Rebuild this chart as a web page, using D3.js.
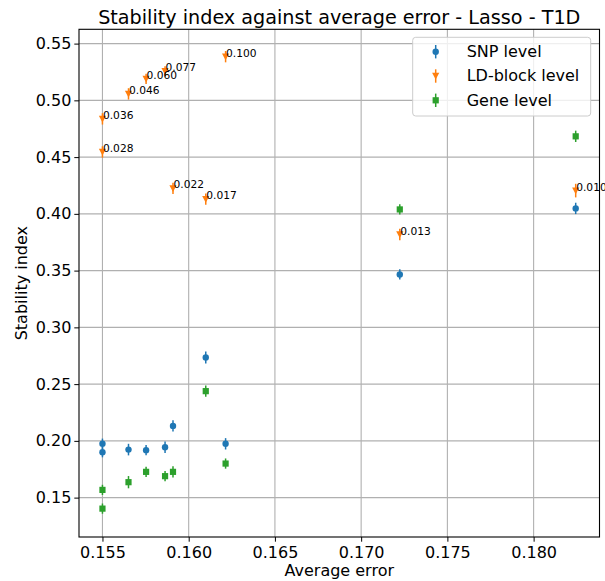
<!DOCTYPE html>
<html>
<head>
<meta charset="utf-8">
<script src="https://cdn.jsdelivr.net/npm/d3@7"></script>
<style>
  html, body { margin: 0; padding: 0; background: #fff; }
  svg { display: block; font-family: "DejaVu Sans", sans-serif; }
</style>
</head>
<body>
<svg id="chart" width="605" height="581"></svg>
<script>
// ---- data ----
const lambdaLabels = ["0.100", "0.077", "0.060", "0.046", "0.036", "0.028", "0.022", "0.017", "0.013", "0.010"];
const avgError     = [0.16214, 0.15863, 0.15753, 0.15651, 0.15500, 0.15500, 0.15909, 0.16099, 0.17224, 0.18244];
const snpValues    = [0.1974, 0.1944, 0.1918, 0.1923, 0.1975, 0.1900, 0.2132, 0.2734, 0.3466, 0.4048];
const snpErrors    = [0.0050, 0.0050, 0.0045, 0.0051, 0.0045, 0.0045, 0.0050, 0.0053, 0.0045, 0.0050];
const ldValues     = [0.5385, 0.5256, 0.5189, 0.5057, 0.4837, 0.4545, 0.4224, 0.4130, 0.3818, 0.4205];
const ldErrors     = [0.0050, 0.0045, 0.0045, 0.0050, 0.0050, 0.0050, 0.0050, 0.0050, 0.0050, 0.0060];
const geneValues   = [0.1800, 0.1689, 0.1727, 0.1636, 0.1568, 0.1403, 0.1727, 0.2438, 0.4039, 0.4683];
const geneErrors   = [0.0045, 0.0045, 0.0045, 0.0054, 0.0045, 0.0045, 0.0050, 0.0050, 0.0045, 0.0050];
const xTicks = [0.155, 0.160, 0.165, 0.170, 0.175, 0.180];
const yTicks = [0.15, 0.20, 0.25, 0.30, 0.35, 0.40, 0.45, 0.50, 0.55];
const seriesNames  = ["SNP level", "LD-block level", "Gene level"];
const seriesColors = ["#1f77b4", "#ff7f0e", "#2ca02c"];
const titleText = "Stability index against average error - Lasso - T1D";
const xLabelText = "Average error";
const yLabelText = "Stability index";

// ---- layout ----
const svg = d3.select("#chart");
const L = 79, R = 599.5, T = 29.3, B = 537;
const x = d3.scaleLinear().domain([0.15364, 0.18382]).range([L, R]);
const y = d3.scaleLinear().domain([0.1153, 0.5626]).range([B, T]);

// grid
const grid = svg.append("g");
grid.selectAll("line.gx").data(xTicks).join("line")
  .attr("x1", d => x(d)).attr("x2", d => x(d)).attr("y1", T).attr("y2", B)
  .attr("stroke", "#b0b0b0").attr("stroke-width", 1.1);
grid.selectAll("line.gy").data(yTicks).join("line")
  .attr("y1", d => y(d)).attr("y2", d => y(d)).attr("x1", L).attr("x2", R)
  .attr("stroke", "#b0b0b0").attr("stroke-width", 1.1);

// axes
const xAxis = svg.append("g").attr("transform", `translate(0,${B})`)
  .call(d3.axisBottom(x).tickValues(xTicks).tickFormat(d3.format(".3f")).tickSize(4.7).tickPadding(4.5));
const yAxis = svg.append("g").attr("transform", `translate(${L},0)`)
  .call(d3.axisLeft(y).tickValues(yTicks).tickFormat(d3.format(".2f")).tickSize(4.7).tickPadding(3));
[xAxis, yAxis].forEach(a => {
  a.select(".domain").remove();
  a.selectAll("text").attr("font-size", 16).attr("fill", "#000").attr("font-family", "DejaVu Sans");
  a.selectAll("line").attr("stroke", "#000").attr("stroke-width", 1);
});

// frame
svg.append("rect").attr("x", L).attr("y", T).attr("width", R - L).attr("height", B - T)
  .attr("fill", "none").attr("stroke", "#000").attr("stroke-width", 1.1);

// series
const seriesData = [
  { vals: snpValues, errs: snpErrors, shape: "circle" },
  { vals: ldValues, errs: ldErrors, shape: "tri" },
  { vals: geneValues, errs: geneErrors, shape: "square" }
];

function drawMarker(g, shape, color) {
  if (shape === "circle") {
    g.append("circle").attr("r", 3.2).attr("fill", color);
  } else if (shape === "square") {
    g.append("rect").attr("x", -3.1).attr("y", -3.1).attr("width", 6.2).attr("height", 6.2).attr("fill", color);
  } else {
    g.append("path").attr("d", "M-3.6,-3.2 L3.6,-3.2 L0,3.6 Z").attr("fill", color);
  }
}

const plot = svg.append("g");
seriesData.forEach((s, si) => {
  const color = seriesColors[si];
  s.vals.forEach((v, i) => {
    const cx = x(avgError[i]), cy = y(v);
    plot.append("line")
      .attr("x1", cx).attr("x2", cx)
      .attr("y1", y(v - s.errs[i])).attr("y2", y(v + s.errs[i]))
      .attr("stroke", color).attr("stroke-width", 1.5);
    const g = plot.append("g").attr("transform", `translate(${cx},${cy})`);
    drawMarker(g, s.shape, color);
  });
});

// annotations on LD-block points
svg.append("g").selectAll("text").data(lambdaLabels).join("text")
  .attr("x", (d, i) => x(avgError[i]) + 0.5)
  .attr("y", (d, i) => y(ldValues[i]))
  .attr("font-size", 10.67).attr("fill", "#000")
  .text(d => d);

// title and labels
svg.append("text").attr("x", (L + R) / 2).attr("y", 24).attr("text-anchor", "middle")
  .attr("font-size", 19.2).attr("fill", "#000").text(titleText);
svg.append("text").attr("x", (L + R) / 2).attr("y", 576).attr("text-anchor", "middle")
  .attr("font-size", 16).attr("fill", "#000").text(xLabelText);
svg.append("text").attr("transform", `translate(27,${(T + B) / 2}) rotate(-90)`).attr("text-anchor", "middle")
  .attr("font-size", 16).attr("fill", "#000").text(yLabelText);

// legend
const lg = svg.append("g");
lg.append("rect").attr("x", 412.7).attr("y", 37.3).attr("width", 178).attr("height", 78.7)
  .attr("rx", 3).attr("fill", "#fff").attr("fill-opacity", 0.8)
  .attr("stroke", "#cccccc").attr("stroke-width", 1);
seriesNames.forEach((name, i) => {
  const cy = 51.7 + i * 24.3;
  const color = seriesColors[i];
  lg.append("line").attr("x1", 435.7).attr("x2", 435.7).attr("y1", cy - 6.7).attr("y2", cy + 6.7)
    .attr("stroke", color).attr("stroke-width", 1.5);
  const g = lg.append("g").attr("transform", `translate(435.7,${cy})`);
  drawMarker(g, seriesData[i].shape, color);
  lg.append("text").attr("x", 466.7).attr("y", cy + 5.3).attr("font-size", 16).attr("fill", "#000").text(name);
});
</script>
</body>
</html>
